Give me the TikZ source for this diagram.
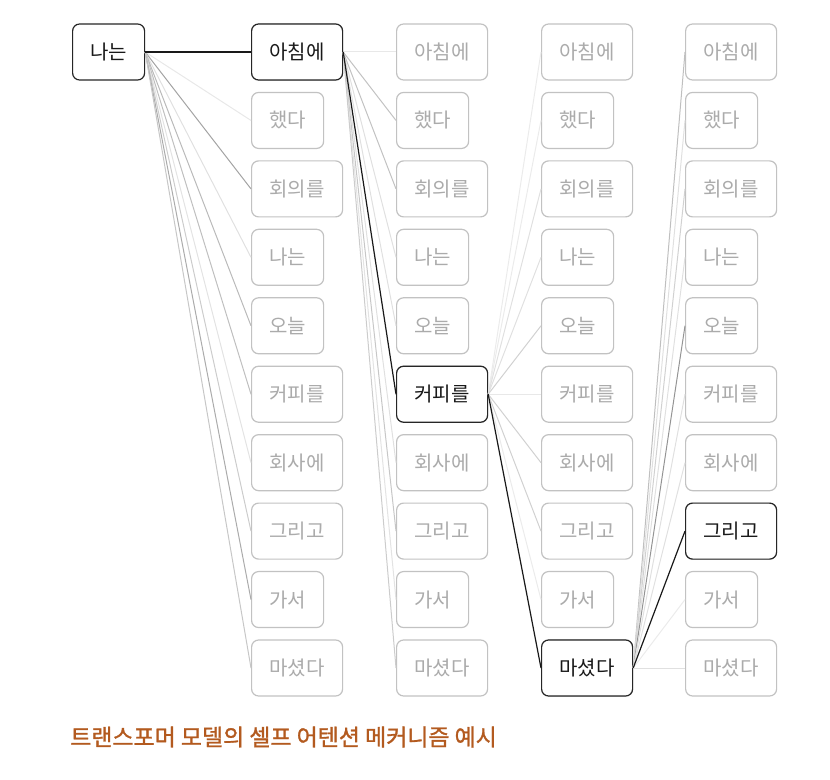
\documentclass[tikz,border=0pt]{standalone}
\usepackage{fontspec}
\setmainfont{Noto Sans CJK KR}
\newfontfamily\capfont[FakeBold=1.2]{Noto Sans CJK KR}
\definecolor{capc}{HTML}{B35A1F}
\definecolor{boxgray}{HTML}{C2C2C2}
\definecolor{txtgray}{HTML}{ABABAB}
\tikzset{
  wbox/.style={draw=boxgray, line width=0.9pt, rounded corners=5.25pt, fill=white,
    text=txtgray, minimum height=42pt, inner sep=0pt, font=\fontsize{15}{17}\selectfont, anchor=west},
  hbox/.style={draw=black!85, text=black!90},
  edgeln/.style={line width=0.75pt},
  hedge/.style={line width=0.9pt, draw=black!90},
}
\begin{document}
\begin{tikzpicture}[x=0.75pt,y=-0.75pt]
\useasboundingbox (0,0) rectangle (830,780);
\node[wbox,hbox,minimum width=54pt] (n0) at (72,52) {나는};
\foreach \c/\xl in {1/251,2/396,3/541,4/685}{
  \foreach \i/\w/\bw in {0/아침에/68.25pt,1/했다/54pt,2/회의를/68.25pt,3/나는/54pt,4/오늘/54pt,
                        5/커피를/68.25pt,6/회사에/68.25pt,7/그리고/68.25pt,8/가서/54pt,9/마셨다/68.25pt}{
    \node[wbox,minimum width=\bw] (c\c r\i) at (\xl,{52+68.444*\i}) {\w};
  }
}
% highlighted boxes
\node[wbox,hbox,minimum width=68.25pt] (h1) at (251,52) {아침에};
\node[wbox,hbox,minimum width=68.25pt] (h2) at (396,{52+68.444*5}) {커피를};
\node[wbox,hbox,minimum width=68.25pt] (h3) at (541,{52+68.444*9}) {마셨다};
\node[wbox,hbox,minimum width=68.25pt] (h4) at (685,{52+68.444*7}) {그리고};
% edges
\foreach \i/\s in {1/9,2/36,3/12,4/27,5/25,6/11,7/20,8/33,9/22}
  \draw[edgeln,draw=black!\s] (n0.east) -- (c1r\i.west);
\foreach \i/\s in {0/9,1/24,2/24,3/12,4/12,6/12,7/22,8/11,9/20}
  \draw[edgeln,draw=black!\s] (h1.east) -- (c2r\i.west);
\foreach \i/\s in {0/8,1/8,2/12,3/12,4/18,5/9,6/18,7/18,8/8}
  \draw[edgeln,draw=black!\s] (h2.east) -- (c3r\i.west);
\foreach \i/\s in {0/25,1/12,2/18,3/12,4/42,5/12,6/12,8/8,9/12}
  \draw[edgeln,draw=black!\s] (h3.east) -- (c4r\i.west);
\draw[hedge] (n0.east) -- (h1.west);
\draw[hedge] (h1.east) -- (h2.west);
\draw[hedge] (h2.east) -- (h3.west);
\draw[hedge] (h3.east) -- (h4.west);
\node[anchor=west, inner sep=0pt, text=capc, font=\capfont\fontsize{17.2}{20}\selectfont] (cap) at (70,737) {트랜스포머 모델의 셀프 어텐션 메커니즘 예시};
\end{tikzpicture}
\end{document}
